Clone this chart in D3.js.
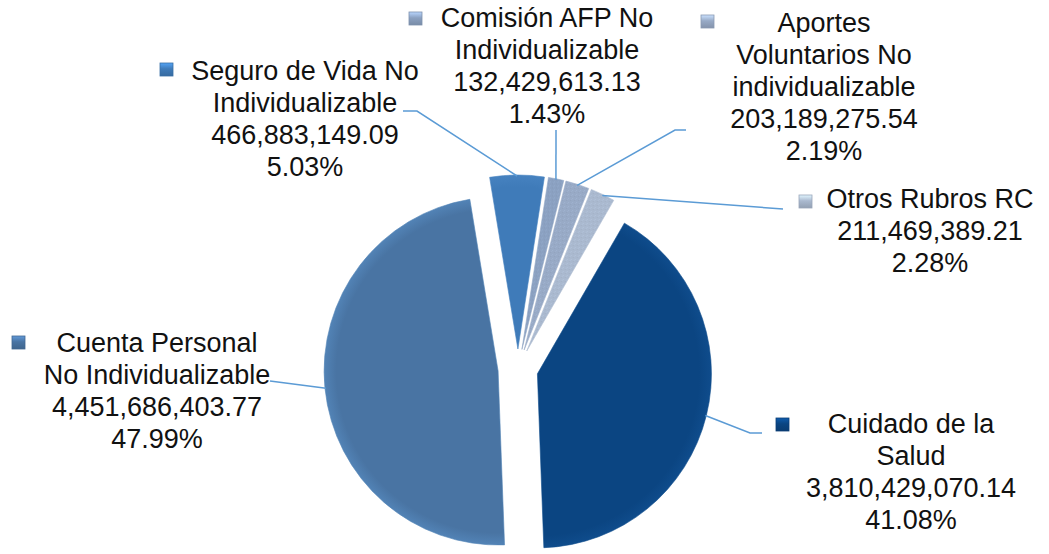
<!DOCTYPE html>
<html>
<head>
<meta charset="utf-8">
<script src="https://cdn.jsdelivr.net/npm/d3@7"></script>
<style>
  html, body { margin: 0; padding: 0; background: #fff; }
  svg { display: block; }
  text { font-family: "Liberation Sans", Arial, sans-serif; font-size: 27px; fill: #111; }
</style>
</head>
<body>
<svg id="chart"></svg>
<script>
// datos
var categories = ["Cuidado de la Salud", "Cuenta Personal No Individualizable", "Seguro de Vida No Individualizable",
                  "Comisión AFP No Individualizable", "Aportes Voluntarios No individualizable", "Otros Rubros RC"];
var values = [3810429070.14, 4451686403.77, 466883149.09, 132429613.13, 203189275.54, 211469389.21];
// texto de cada etiqueta, ya cortado en líneas
var labelLines = [["Cuidado de la", "Salud"], ["Cuenta Personal", "No Individualizable"],
                  ["Seguro de Vida No", "Individualizable"], ["Comisión AFP No", "Individualizable"],
                  ["Aportes", "Voluntarios No", "individualizable"], ["Otros Rubros RC"]];
var colors = ["#0b4582", "#4974a3", "#3f7bb9", "#8ba1c1", "#98aac6", "#aab9cf"];
var edgeColors = ["#0f4c8c", "#5283b6", "#4682c0", "#93a8c6", "#a0b1cb", "#b2c0d4"];

var W = 1049, H = 554;
var cx = 518, cy = 369, R = 174, explode = 20;
var startAngle = 30 * Math.PI / 180;

// posición de las etiquetas (centro x, primera línea base, cuadro de leyenda, puntos de la guía)
var labelPos = [
    {x: 911, y: 433, kx: 776, ky: 418, guide: [[750, 433], [762, 433]]},
    {x: 157, y: 352, kx: 12, ky: 336, guide: [[270, 381]]},
    {x: 305, y: 80, kx: 160, ky: 63, guide: [[417, 111], [403, 111]]},
    {x: 547, y: 27, kx: 409, ky: 12, guide: [[556, 130]]},
    {x: 824, y: 32, kx: 701, ky: 15, guide: [[675, 130], [686, 130]]},
    {x: 930, y: 208, kx: 799, ky: 195, guide: [[783, 209]]}
];
var lineH = 32;

var total = d3.sum(values);
var fmtNum = d3.format(",.2f");
var fmtPct = d3.format(".2%");

var svg = d3.select("#chart").attr("width", W).attr("height", H);
var defs = svg.append("defs");

// rellenos: degradado radial para los grandes, textura suave para los pequeños
colors.forEach(function (c, i) {
    var g = defs.append("radialGradient").attr("id", "grad" + i)
        .attr("gradientUnits", "userSpaceOnUse")
        .attr("cx", 0).attr("cy", 0).attr("r", R);
    g.append("stop").attr("offset", "0%").attr("stop-color", c);
    g.append("stop").attr("offset", "93%").attr("stop-color", c);
    g.append("stop").attr("offset", "100%").attr("stop-color", edgeColors[i]);

    if (i >= 3) {
        var p = defs.append("pattern").attr("id", "tex" + i)
            .attr("patternUnits", "userSpaceOnUse")
            .attr("width", 4).attr("height", 4);
        p.append("rect").attr("width", 4).attr("height", 4).attr("fill", c);
        p.append("rect").attr("x", 0).attr("y", 0).attr("width", 1).attr("height", 1)
            .attr("fill", d3.color(c).brighter(0.15));
        p.append("rect").attr("x", 2).attr("y", 2).attr("width", 1).attr("height", 1)
            .attr("fill", d3.color(c).darker(0.12));
        p.append("rect").attr("x", 3).attr("y", 1).attr("width", 1).attr("height", 1)
            .attr("fill", d3.color(c).brighter(0.1));
    }

    var k = defs.append("linearGradient").attr("id", "key" + i)
        .attr("x1", 0).attr("y1", 0).attr("x2", 0).attr("y2", 1);
    k.append("stop").attr("offset", "0%").attr("stop-color", d3.color(c).brighter(0.8));
    k.append("stop").attr("offset", "45%").attr("stop-color", c);
    k.append("stop").attr("offset", "100%").attr("stop-color", d3.color(c).darker(0.4));
});

var pie = d3.pie().sort(null).value(function (d) { return d; })
    .startAngle(startAngle).endAngle(startAngle + 2 * Math.PI);
var arcs = pie(values);
var arc = d3.arc().innerRadius(0).outerRadius(R);

function mid(d) { return (d.startAngle + d.endAngle) / 2; }

var g = svg.append("g").attr("transform", "translate(" + cx + "," + cy + ")");

var slices = g.selectAll("g.slice").data(arcs).enter().append("g")
    .attr("class", "slice")
    .attr("transform", function (d) {
        var a = mid(d);
        return "translate(" + (Math.sin(a) * explode) + "," + (-Math.cos(a) * explode) + ")";
    });

slices.append("path")
    .attr("d", arc)
    .attr("fill", function (d, i) { return i >= 3 ? "url(#tex" + i + ")" : "url(#grad" + i + ")"; })
    .attr("stroke", function (d, i) { return edgeColors[i]; })
    .attr("stroke-width", 1)
    .attr("stroke-opacity", 0.6);

// líneas guía
var line = d3.line();
arcs.forEach(function (d, i) {
    var a = mid(d);
    var r = R + explode - 1;
    var start = [cx + Math.sin(a) * r, cy - Math.cos(a) * r];
    var pts = [start].concat(labelPos[i].guide);
    svg.append("path")
        .attr("d", line(pts))
        .attr("fill", "none")
        .attr("stroke", "#5b9bd5")
        .attr("stroke-width", 1.5);
});

// etiquetas
arcs.forEach(function (d, i) {
    var lp = labelPos[i];
    var lines = labelLines[i].concat([fmtNum(values[i]), fmtPct(values[i] / total)]);
    var t = svg.append("text").attr("text-anchor", "middle");
    lines.forEach(function (s, j) {
        t.append("tspan").attr("x", lp.x).attr("y", lp.y + j * lineH).text(s);
    });
    svg.append("rect")
        .attr("x", lp.kx).attr("y", lp.ky)
        .attr("width", 13).attr("height", 13)
        .attr("fill", "url(#key" + i + ")")
        .attr("stroke", d3.color(colors[i]).darker(0.3))
        .attr("stroke-width", 0.8);
});
</script>
</body>
</html>
